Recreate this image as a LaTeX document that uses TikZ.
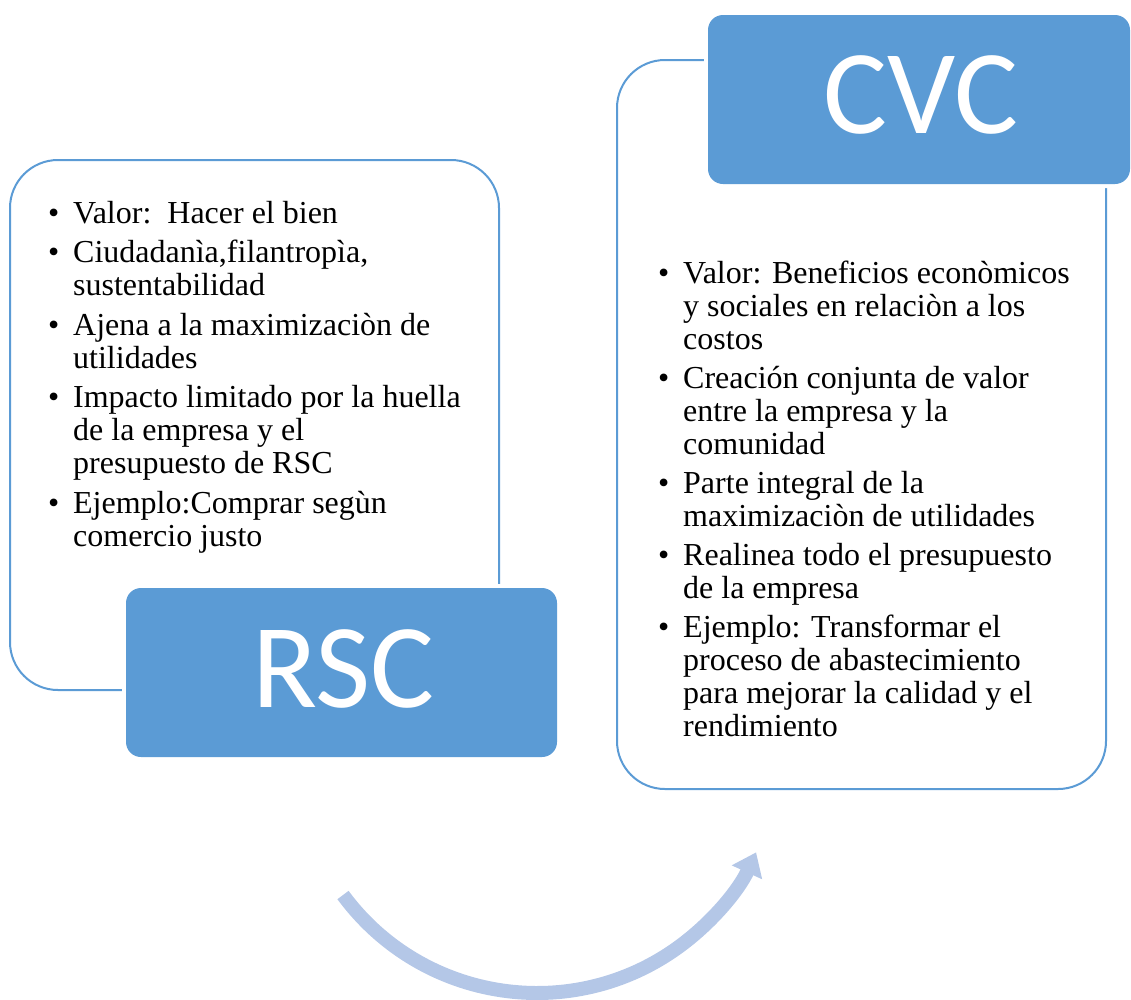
\documentclass[tikz,border=0pt]{standalone}
\usepackage{fontspec}
\setmainfont{Liberation Serif}
\newfontfamily\headfont{Carlito}
\usetikzlibrary{arrows.meta}
\definecolor{accentblue}{RGB}{91,155,213}
\definecolor{arrowblue}{RGB}{180,199,231}
% one bullet point; continuation lines hang under the text
\newcommand\bitem[1]{\par\leftskip=25pt\noindent\hspace*{-25pt}\makebox[25pt][l]{\textbullet}#1}
% a top-aligned ragged-right list block
\newcommand\listblock[2]{\parbox[t]{460pt}{\raggedright\setlength\parskip{#1}#2}}

\begin{document}
\begin{tikzpicture}[x=1pt,y=-1pt,
  frame/.style={draw=accentblue, line width=2pt, rounded corners=48pt, inner sep=0pt},
  titlebox/.style={fill=accentblue, rounded corners=15pt, inner sep=0pt,
    preaction={draw=white, line width=8pt}},
  titletext/.style={anchor=base, inner sep=0pt, text=white,
    font=\headfont\fontsize{120}{120}\selectfont},
  listtext/.style={anchor=base west, inner sep=0pt,
    font=\fontsize{32}{33}\selectfont}]
\useasboundingbox (0,0) rectangle (1131,999);

% outlined panels
\node[frame, minimum width=489pt, minimum height=530pt] (rscframe) at (254.5,425) {};
\node[frame, minimum width=489pt, minimum height=729pt] (cvcframe) at (861.5,424.5) {};

% filled title boxes
\node[titlebox, minimum width=431pt, minimum height=169pt] (rsc) at (341.5,672.5) {};
\node[titletext] (rsctitle) at (343.5,707) {RSC};
\node[titlebox, minimum width=422pt, minimum height=169pt] (cvc) at (919,99.5) {};
\node[titletext] (cvctitle) at (921,133) {CVC};

% bullet lists
\node[listtext] (rsclist) at (48,223) {\listblock{6.5pt}{%
  \bitem{Valor:\ \ Hacer el bien}
  \bitem{Ciudadanìa,filantropìa,\\ sustentabilidad}
  \bitem{Ajena a la maximizaciòn de\\ utilidades}
  \bitem{Impacto limitado por la huella\\ de la empresa y el\\ presupuesto de RSC}
  \bitem{Ejemplo:Comprar segùn\\ comercio justo}}};

\node[listtext] (cvclist) at (658,283) {\listblock{6pt}{%
  \bitem{Valor: Beneficios econòmicos\\ y sociales en relaciòn a los\\ costos}
  \bitem{Creación conjunta de valor\\ entre la empresa y la\\ comunidad}
  \bitem{Parte integral de la\\ maximizaciòn de utilidades}
  \bitem{Realinea todo el presupuesto\\ de la empresa}
  \bitem{Ejemplo: Transformar el\\ proceso de abastecimiento\\ para mejorar la calidad y el\\ rendimiento}}};

% curved arrow from RSC towards CVC
\coordinate (arcstart) at (343,895);
\draw[arrowblue, line width=14pt, -{Triangle[length=22pt,width=32pt]}]
  (arcstart) arc[start angle=143.6, end angle=24.6, radius=241];
\end{tikzpicture}
\end{document}
